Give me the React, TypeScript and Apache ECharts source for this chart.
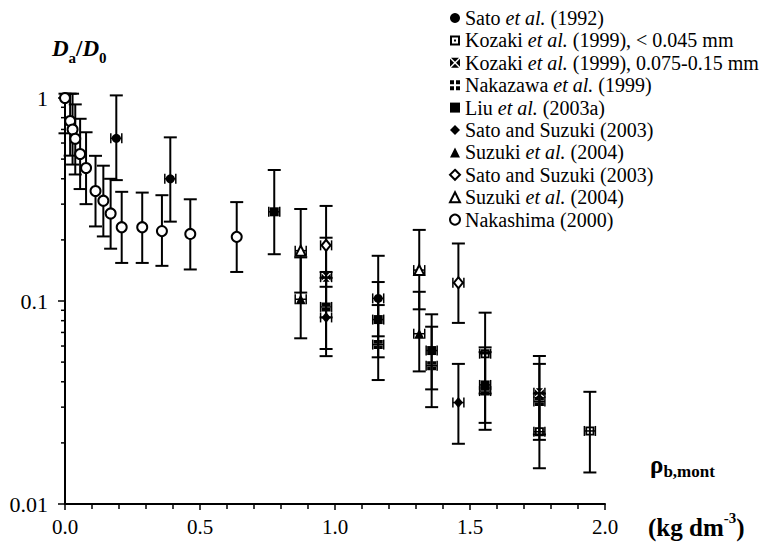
import React, { useEffect, useRef } from "react";
import * as echarts from "echarts";

// [x (kg dm-3), Da/D0, lower error, upper error]
const sato1992 = [
  [0.19, 0.633, 0.394, 1.03],
  [0.39, 0.4, 0.246, 0.64],
  [1.16, 0.103, 0.067, 0.167],
];
const kozakiFine = [
  [1.556, 0.055, 0.035, 0.0876],
  [1.757, 0.0227, 0.015, 0.035],
  [1.944, 0.0229, 0.0143, 0.0357],
];
const kozakiCoarse = [
  [0.967, 0.131, 0.083, 0.205],
  [1.757, 0.0353, 0.022, 0.0536],
];
const nakazawa = [
  [0.967, 0.0935, 0.058, 0.139],
  [1.16, 0.061, 0.0408, 0.0955],
  [1.358, 0.048, 0.03, 0.0747],
  [1.556, 0.036, 0.0232, 0.056],
  [1.757, 0.032, 0.0207, 0.049],
];
const liu2003 = [
  [0.775, 0.275, 0.17, 0.442],
  [1.16, 0.081, 0.0528, 0.124],
  [1.358, 0.057, 0.0367, 0.086],
  [1.556, 0.0386, 0.0251, 0.0591],
];
const satoSuzukiFilled = [
  [0.967, 0.083, 0.0535, 0.13],
  [1.457, 0.0316, 0.0198, 0.049],
];
const suzukiFilled = [
  [0.873, 0.102, 0.0655, 0.164],
  [1.312, 0.069, 0.045, 0.111],
];
const satoSuzukiOpen = [
  [0.967, 0.188, 0.1175, 0.294],
  [1.457, 0.123, 0.078, 0.192],
];
const suzukiOpen = [
  [0.873, 0.177, 0.11, 0.284],
  [1.312, 0.142, 0.091, 0.224],
];
const nakashima = [
  [0.0, 1.0, 0.67, 1.05],
  [0.019, 0.77, 0.52, 1.05],
  [0.028, 0.7, 0.47, 1.05],
  [0.038, 0.63, 0.42, 0.93],
  [0.056, 0.53, 0.356, 0.79],
  [0.078, 0.452, 0.3, 0.678],
  [0.113, 0.348, 0.233, 0.519],
  [0.142, 0.312, 0.208, 0.464],
  [0.169, 0.27, 0.181, 0.4],
  [0.21, 0.231, 0.154, 0.345],
  [0.286, 0.231, 0.154, 0.342],
  [0.359, 0.221, 0.149, 0.332],
  [0.464, 0.214, 0.143, 0.317],
  [0.636, 0.207, 0.139, 0.307],
];

const legendLabels = [
  "{n|Sato }{i|et al.}{n| (1992)}",
  "{n|Kozaki }{i|et al.}{n| (1999), < 0.045 mm}",
  "{n|Kozaki }{i|et al.}{n| (1999), 0.075-0.15 mm}",
  "{n|Nakazawa }{i|et al.}{n| (1999)}",
  "{n|Liu }{i|et al.}{n| (2003a)}",
  "{n|Sato and Suzuki (2003)}",
  "{n|Suzuki }{i|et al.}{n| (2004)}",
  "{n|Sato and Suzuki (2003)}",
  "{n|Suzuki }{i|et al.}{n| (2004)}",
  "{n|Nakashima (2000)}",
];

const xTickValues = [0, 0.5, 1.0, 1.5, 2.0];
const yMinorTicks = [
  0.02, 0.03, 0.04, 0.05, 0.06, 0.07, 0.08, 0.09,
  0.2, 0.3, 0.4, 0.5, 0.6, 0.7, 0.8, 0.9,
];

const SYM_FRAME = "path://M0,0H10V10H0Z M2,2V8H8V2Z M4,4H6V6H4Z";
const SYM_X = "path://M1,0L9,0L5,4Z M10,1L10,9L6,5Z M9,10L1,10L5,6Z M0,9L0,1L4,5Z";
const SYM_PLUS = "path://M0,0H4V4H0Z M6,0H10V4H6Z M0,6H4V10H0Z M6,6H10V10H6Z";

const FONT = "Liberation Serif";

const seriesDefs = [
  { key: "s1", data: sato1992, symbol: "circle", size: 9, side: 1 },
  { key: "s2", data: kozakiFine, symbol: SYM_FRAME, size: 9, side: 1 },
  { key: "s3", data: kozakiCoarse, symbol: SYM_X, size: 9, side: 1 },
  { key: "s4", data: nakazawa, symbol: SYM_PLUS, size: 9, side: 1 },
  { key: "s5", data: liu2003, symbol: "rect", size: 9, side: 1 },
  { key: "s6", data: satoSuzukiFilled, symbol: "diamond", size: [9, 11], side: 1 },
  { key: "s7", data: suzukiFilled, symbol: "triangle", size: 10, side: 1 },
  { key: "s8", data: satoSuzukiOpen, symbol: "emptyDiamond", size: [9, 11], side: 1, empty: true },
  { key: "s9", data: suzukiOpen, symbol: "emptyTriangle", size: 10, side: 1, empty: true },
  { key: "s10", data: nakashima, symbol: "emptyCircle", size: 10, side: 0, empty: true },
];

export default function App() {
  const ref = useRef<HTMLDivElement>(null);
  useEffect(() => {
    document.body.style.margin = "0";
    const chart = echarts.init(ref.current!, null, { renderer: "svg" });

    const errData: number[][] = [];
    seriesDefs.forEach((s) => {
      s.data.forEach((d) => errData.push([d[0], d[1], d[2], d[3], s.side]));
    });

    const errorSeries = {
      type: "custom",
      z: 1,
      silent: true,
      clip: false,
      encode: { x: 0, y: 1 },
      data: errData,
      renderItem: (params: any, api: any) => {
        const x = api.value(0);
        const pLo = api.coord([x, api.value(2)]);
        const pHi = api.coord([x, api.value(3)]);
        const pMid = api.coord([x, api.value(1)]);
        const cw = 6.5;
        const st = { stroke: "#000", lineWidth: 2 };
        const children: any[] = [
          { type: "line", shape: { x1: pLo[0], y1: pLo[1], x2: pHi[0], y2: pHi[1] }, style: st },
          { type: "line", shape: { x1: pHi[0] - cw, y1: pHi[1], x2: pHi[0] + cw, y2: pHi[1] }, style: st },
          { type: "line", shape: { x1: pLo[0] - cw, y1: pLo[1], x2: pLo[0] + cw, y2: pLo[1] }, style: st },
        ];
        if (api.value(4) === 1) {
          const s2 = { stroke: "#000", lineWidth: 1.5 };
          children.push(
            { type: "line", shape: { x1: pMid[0] - 5.5, y1: pMid[1] - 5, x2: pMid[0] - 5.5, y2: pMid[1] + 5 }, style: s2 },
            { type: "line", shape: { x1: pMid[0] + 5.5, y1: pMid[1] - 5, x2: pMid[0] + 5.5, y2: pMid[1] + 5 }, style: s2 },
            { type: "line", shape: { x1: pMid[0] - 5.5, y1: pMid[1], x2: pMid[0] + 5.5, y2: pMid[1] }, style: s2 }
          );
        }
        return { type: "group", children };
      },
    };

    const minorTickSeries = {
      type: "custom",
      z: 2,
      silent: true,
      clip: false,
      encode: { x: 0, y: 1 },
      data: yMinorTicks.map((v) => [0, v]),
      renderItem: (params: any, api: any) => {
        const p = api.coord([0, api.value(1)]);
        return {
          type: "line",
          shape: { x1: p[0] - 4, y1: p[1], x2: p[0], y2: p[1] },
          style: { stroke: "#000", lineWidth: 1.5 },
        };
      },
    };

    const scatterSeries = seriesDefs.map((s) => ({
      name: s.key,
      type: "scatter",
      z: 3,
      symbol: s.symbol,
      symbolSize: s.size,
      data: s.data.map((d) => [d[0], d[1]]),
      itemStyle: s.empty
        ? { color: "#000", borderColor: "#000", borderWidth: 1.8, opacity: 1 }
        : { color: "#000", opacity: 1 },
    }));

    const labelMap: Record<string, string> = {};
    seriesDefs.forEach((s, i) => (labelMap[s.key] = legendLabels[i]));

    const option: any = {
      animation: false,
      backgroundColor: "#fff",
      grid: { left: 65, right: 157, top: 98, bottom: 40 },
      legend: {
        data: seriesDefs.map((s) => s.key),
        orient: "vertical",
        left: 444,
        top: 3,
        itemWidth: 10,
        itemHeight: 10,
        itemGap: 2.4,
        selectedMode: false,
        formatter: (name: string) => labelMap[name],
        itemStyle: { opacity: 1 },
        textStyle: {
          fontFamily: FONT,
          fontSize: 20,
          color: "#000",
          lineHeight: 20,
          rich: {
            n: { fontFamily: FONT, fontSize: 20, color: "#000", lineHeight: 20 },
            i: { fontFamily: FONT, fontSize: 20, color: "#000", fontStyle: "italic", lineHeight: 20 },
          },
        },
      },
      xAxis: {
        type: "value",
        min: 0,
        max: 2,
        interval: 0.5,
        splitLine: { show: false },
        axisLine: { show: true, lineStyle: { color: "#000", width: 2 } },
        axisTick: { show: true, length: 6, lineStyle: { color: "#000", width: 1.5 } },
        minorTick: { show: true, splitNumber: 5, length: 5, lineStyle: { color: "#000", width: 1.5 } },
        axisLabel: {
          color: "#000",
          fontFamily: FONT,
          fontSize: 21,
          margin: 12,
          formatter: (v: number) => (xTickValues.indexOf(v) >= 0 ? v.toFixed(1) : ""),
        },
      },
      yAxis: {
        type: "log",
        min: 0.01,
        max: 1,
        logBase: 10,
        splitLine: { show: false },
        axisLine: { show: true, lineStyle: { color: "#000", width: 2 } },
        axisTick: { show: true, length: 7, lineStyle: { color: "#000", width: 1.5 } },
        axisLabel: { color: "#000", fontFamily: FONT, fontSize: 22, margin: 17 },
      },
      graphic: [
        {
          type: "text",
          x: 52,
          y: 51,
          style: {
            text: "{d|D}{s|a}{n|/}{d|D}{s|0}",
            fill: "#000",
            verticalAlign: "middle",
            rich: {
              d: { fontFamily: FONT, fontStyle: "italic", fontWeight: "bold", fontSize: 23, lineHeight: 28, verticalAlign: "top" },
              n: { fontFamily: FONT, fontWeight: "bold", fontSize: 23, lineHeight: 28, verticalAlign: "top" },
              s: { fontFamily: FONT, fontWeight: "bold", fontSize: 15, lineHeight: 28, verticalAlign: "bottom" },
            },
          },
        },
        {
          type: "text",
          x: 650,
          y: 466,
          style: {
            text: "{r|ρ}{s|b,mont}",
            fill: "#000",
            verticalAlign: "middle",
            rich: {
              r: { fontFamily: FONT, fontWeight: "bold", fontSize: 25, lineHeight: 28, verticalAlign: "top" },
              s: { fontFamily: FONT, fontWeight: "bold", fontSize: 17, lineHeight: 28, verticalAlign: "bottom" },
            },
          },
        },
        {
          type: "text",
          x: 648,
          y: 525,
          style: {
            text: "{b|(kg dm}{p|-3}{b|)}",
            fill: "#000",
            verticalAlign: "middle",
            rich: {
              b: { fontFamily: FONT, fontWeight: "bold", fontSize: 25, lineHeight: 29, verticalAlign: "bottom" },
              p: { fontFamily: FONT, fontWeight: "bold", fontSize: 15, lineHeight: 29, verticalAlign: "top" },
            },
          },
        },
      ],
      series: [errorSeries, minorTickSeries, ...scatterSeries],
    };
    chart.setOption(option);
    return () => chart.dispose();
  }, []);
  return <div ref={ref} style={{ width: 762, height: 544 }} />;
}
